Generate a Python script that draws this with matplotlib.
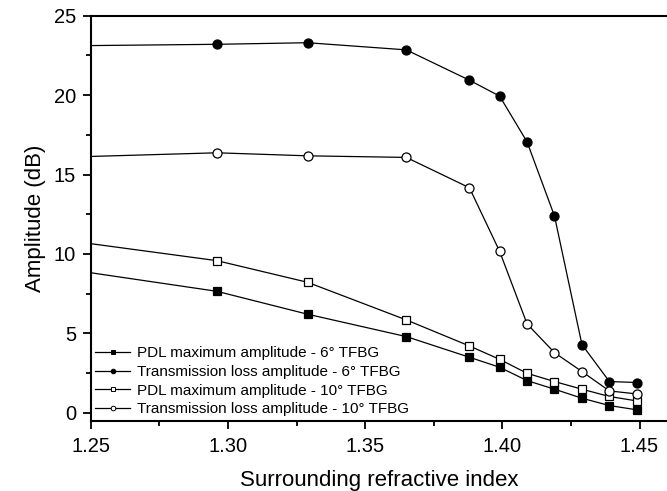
import matplotlib
matplotlib.use("Agg")
import matplotlib.pyplot as plt
from matplotlib.lines import Line2D

plt.rcParams["font.family"] = ["Liberation Sans", "DejaVu Sans"]

# ==========================
# DATA
# ==========================
# measured refractive indices (marker positions)
n_meas = [1.296, 1.329, 1.365, 1.388, 1.399, 1.409, 1.419, 1.429, 1.439, 1.449]

# value where each curve enters the plot at the left edge (n = 1.25, no marker)
n_edge = 1.25
edge_pdl_6 = 8.82
edge_tl_6 = 23.12
edge_pdl_10 = 10.65
edge_tl_10 = 16.14

pdl_6 = [7.65, 6.21, 4.80, 3.50, 2.87, 2.03, 1.49, 0.92, 0.46, 0.19]
tl_6 = [23.2, 23.3, 22.85, 20.94, 19.94, 17.06, 12.39, 4.30, 1.97, 1.91]
pdl_10 = [9.58, 8.22, 5.85, 4.21, 3.37, 2.49, 1.97, 1.49, 1.03, 0.75]
tl_10 = [16.37, 16.18, 16.08, 14.17, 10.17, 5.60, 3.79, 2.60, 1.38, 1.19]

labels = [
    "PDL maximum amplitude - 6\u00b0 TFBG",
    "Transmission loss amplitude - 6\u00b0 TFBG",
    "PDL maximum amplitude - 10\u00b0 TFBG",
    "Transmission loss amplitude - 10\u00b0 TFBG",
]

# ==========================
# PLOT
# ==========================
fig = plt.figure(figsize=(6.67, 4.91), dpi=100)
ax = fig.add_axes([0.136, 0.143, 0.864, 0.825])

series = [
    (edge_pdl_6, pdl_6, "s", "black", 5.6),
    (edge_tl_6, tl_6, "o", "black", 6.5),
    (edge_pdl_10, pdl_10, "s", "white", 5.6),
    (edge_tl_10, tl_10, "o", "white", 6.5),
]

handles = []
for (edge, vals, mk, face, size), lab in zip(series, labels):
    ax.plot([n_edge] + n_meas, [edge] + vals, color="black", lw=0.9, zorder=2)
    ax.plot(n_meas, vals, ls="none", marker=mk, ms=size, mfc=face,
            mec="black", mew=0.9, zorder=3)
    handles.append(Line2D([], [], color="black", lw=0.9, marker=mk, ms=3.3,
                          mfc=face, mec="black", mew=0.7, label=lab))

ax.set_xlim(1.25, 1.46)
ax.set_ylim(-0.5, 25)
ax.set_xticks([1.25, 1.30, 1.35, 1.40, 1.45])
ax.set_xticklabels(["1.25", "1.30", "1.35", "1.40", "1.45"])
ax.set_xticks([1.275, 1.325, 1.375, 1.425], minor=True)
ax.set_yticks([0, 5, 10, 15, 20, 25])
ax.set_yticks([2.5, 7.5, 12.5, 17.5, 22.5], minor=True)

for s in ["left", "bottom", "top"]:
    ax.spines[s].set_linewidth(1.5)
ax.spines["right"].set_visible(False)

ax.tick_params(which="major", direction="out", length=5.5, width=1.3,
               labelsize=14.5, top=False, right=False)
ax.tick_params(axis="x", which="major", pad=6)
ax.tick_params(axis="y", which="major", pad=5)
ax.tick_params(which="minor", direction="out", length=3.5, width=1.3,
               top=False, right=False)

ax.set_xlabel("Surrounding refractive index", fontsize=16, labelpad=10)
ax.set_ylabel("Amplitude (dB)", fontsize=16, labelpad=6)

ax.legend(handles=handles, loc="lower left", bbox_to_anchor=(0.0, 0.0),
          frameon=False, fontsize=11, handlelength=2.3, handletextpad=0.4,
          labelspacing=0.3, borderaxespad=0.1, borderpad=0.2)

fig.savefig("out.png", dpi=100)
